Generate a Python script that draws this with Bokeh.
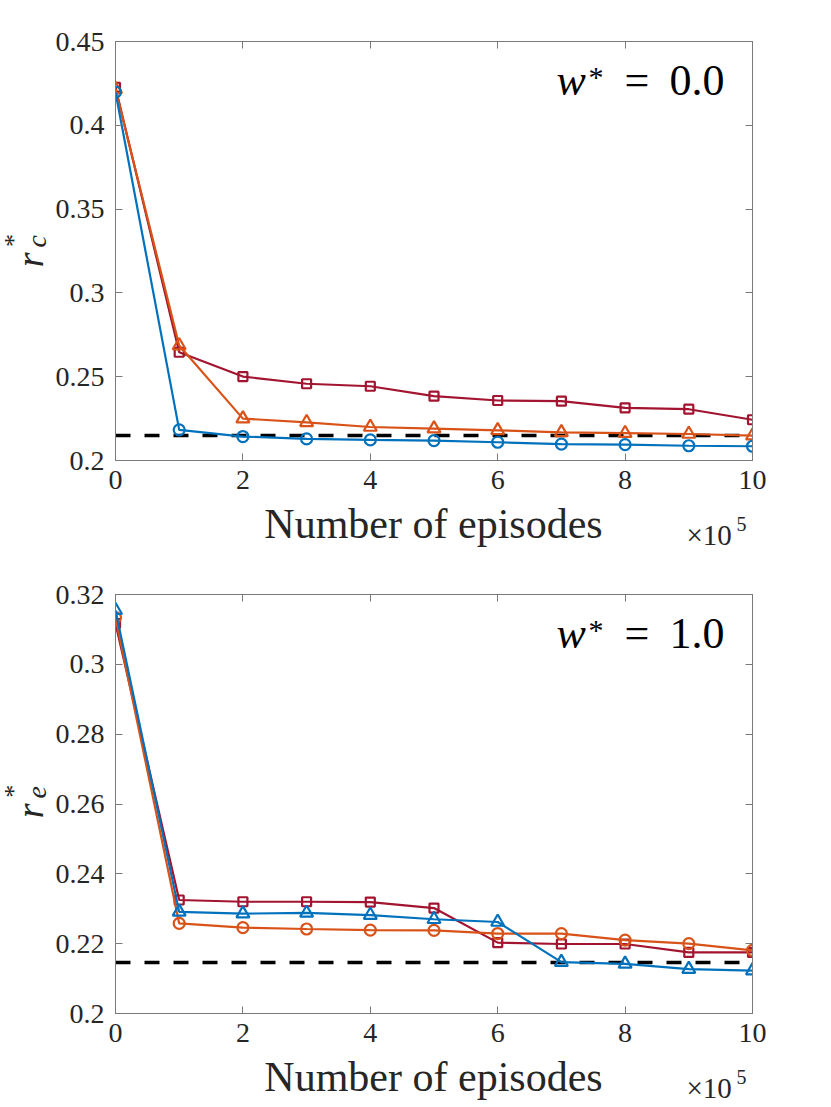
import math
from bokeh.plotting import figure
from bokeh.models import Range1d, LinearAxis, FixedTicker, NumeralTickFormatter, Label
from bokeh.layouts import column, row
from bokeh.embed import file_html
from bokeh.resources import INLINE

# ---------------- data ----------------
episodes = [0, 1, 2, 3, 4, 5, 6, 7, 8, 9, 10]          # x 1e5
x_ticks = [0, 2, 4, 6, 8, 10]
x_label = "Number of episodes"
x_scale_text = "×10"
x_scale_exp = "5"

# top panel (w* = 0.0)
top_square = [0.4227, 0.2646, 0.2501, 0.2458, 0.2443, 0.2384, 0.2358, 0.2354, 0.2314, 0.2306, 0.2243]
top_triangle = [0.4215, 0.2686, 0.2250, 0.2228, 0.2200, 0.2190, 0.2180, 0.2168, 0.2163, 0.2158, 0.2148]
top_circle = [0.4198, 0.2183, 0.2143, 0.2129, 0.2123, 0.2119, 0.2109, 0.2098, 0.2095, 0.2088, 0.2085]
top_baseline = 0.2149
top_y_ticks = [0.2, 0.25, 0.3, 0.35, 0.4, 0.45]

# bottom panel (w* = 1.0)
bot_square = [0.3117, 0.2325, 0.2320, 0.2320, 0.2319, 0.2302, 0.2203, 0.2199, 0.2199, 0.2175, 0.2175]
bot_circle = [0.3134, 0.2258, 0.2246, 0.2242, 0.2239, 0.2238, 0.2229, 0.2229, 0.2210, 0.2200, 0.2181]
bot_triangle = [0.3155, 0.2291, 0.2286, 0.2288, 0.2282, 0.2270, 0.2262, 0.2147, 0.2142, 0.2127, 0.2123]
bot_baseline = 0.2146
bot_y_ticks = [0.2, 0.22, 0.24, 0.26, 0.28, 0.3, 0.32]

baseline_x = [0, 10]

RED = "#A2142F"
ORANGE = "#D95319"
BLUE = "#0072BD"
AX = "#7a7a7a"
TXT = "#262626"
SERIF = "Liberation Serif"

YLAB_W = 52
LEFT_B = 114 - YLAB_W
MAIN_W = LEFT_B + 638 + 40
TOTAL_W = YLAB_W + MAIN_W
MID = 0.3375   # distance baseline -> text-box middle, in em (Liberation Serif)


def style_axis(ax, show_labels=True):
    ax.axis_line_color = AX
    ax.axis_line_width = 1
    ax.major_tick_line_color = AX
    ax.major_tick_in = 7
    ax.major_tick_out = 0
    ax.minor_tick_line_color = None
    ax.major_label_text_font = SERIF
    if show_labels:
        ax.major_label_text_color = TXT
        ax.major_label_text_font_size = "28px"
    else:
        ax.major_label_text_color = None
        ax.major_label_text_font_size = "1px"
        ax.major_label_standoff = 0


def blank_fig(w, h):
    f = figure(width=w, height=h, output_backend="svg", toolbar_location=None,
               x_range=Range1d(0, w), y_range=Range1d(0, h),
               x_axis_type=None, y_axis_type=None, min_border=0)
    f.xgrid.visible = False
    f.ygrid.visible = False
    f.outline_line_color = None
    return f


def text_label(x, y_base, size, text, **kw):
    """Label whose alphabetic baseline sits at y_base (y axis pointing up)."""
    return Label(x=x, y=y_base + MID * size, text=text, text_font=SERIF,
                 text_font_size=f"{size}px", text_baseline="middle", **kw)


def make_main(height, top_border, bottom_border, y_lo, y_hi, y_ticks, series, baseline, wtext):
    p = figure(width=MAIN_W, height=height, output_backend="svg", toolbar_location=None,
               x_range=Range1d(0, 10), y_range=Range1d(y_lo, y_hi),
               min_border_left=LEFT_B, min_border_right=MAIN_W - LEFT_B - 638,
               min_border_top=top_border, min_border_bottom=bottom_border)
    p.xgrid.visible = False
    p.ygrid.visible = False
    p.outline_line_color = AX

    p.xaxis.ticker = FixedTicker(ticks=x_ticks)
    p.yaxis.ticker = FixedTicker(ticks=y_ticks)
    p.xaxis.formatter = NumeralTickFormatter(format="0")
    p.yaxis.formatter = NumeralTickFormatter(format="0.[00]")
    style_axis(p.xaxis[0])
    style_axis(p.yaxis[0])
    p.xaxis.major_label_standoff = 10
    p.yaxis.major_label_standoff = 11

    right = LinearAxis(ticker=FixedTicker(ticks=y_ticks))
    style_axis(right, show_labels=False)
    p.add_layout(right, "right")
    above = LinearAxis(ticker=FixedTicker(ticks=x_ticks))
    style_axis(above, show_labels=False)
    p.add_layout(above, "above")

    p.line(baseline_x, [baseline, baseline], line_color="black", line_width=3.5,
           line_dash="15 14")

    for ys, color, marker, size in series:
        p.line(episodes, ys, line_color=color, line_width=2.2)
        p.scatter(episodes, ys, marker=marker, size=size, line_color=color,
                  fill_color=None, line_width=2.2)

    # w* = value annotation (inside the frame); offsets in px from the frame top-left
    def lab(dx, base_below_top, size, text, style="normal"):
        return Label(x=0, y=y_hi, x_offset=dx, y_offset=-base_below_top + MID * size,
                     text=text, text_font=SERIF, text_font_size=f"{size}px",
                     text_font_style=style, text_color="black", text_align="left",
                     text_baseline="middle")
    p.add_layout(lab(441, 54, 44, "w", "italic"))
    p.add_layout(lab(473, 45, 30, "*"))
    p.add_layout(lab(509, 54, 44, "="))
    p.add_layout(lab(554, 54, 44, wtext))
    return p


def make_ylabel(height, row_top, frame_mid, sub):
    f = blank_fig(YLAB_W, height)
    def Y(py):
        return height - (py - row_top)
    rot = dict(angle=math.pi / 2, text_font=SERIF, text_color=TXT,
               text_align="center", text_baseline="middle")
    f.add_layout(Label(x=29, y=Y(frame_mid + 11), text="r", text_font_style="italic",
                       text_font_size="38px", **rot))
    f.add_layout(Label(x=13, y=Y(frame_mid - 12), text="*", text_font_size="26px", **rot))
    f.add_layout(Label(x=36, y=Y(frame_mid - 11), text=sub, text_font_style="italic",
                       text_font_size="28px", **rot))
    return f


def make_xstrip(height, strip_top, frame_bottom):
    f = blank_fig(TOTAL_W, height)
    def Y(py):
        return height - (py - strip_top)
    f.add_layout(text_label(433, Y(frame_bottom + 78), 42, x_label,
                            text_color=TXT, text_align="center"))
    f.add_layout(text_label(686, Y(frame_bottom + 84), 29, x_scale_text,
                            text_color=TXT, text_align="left"))
    f.add_layout(text_label(736, Y(frame_bottom + 70), 20, x_scale_exp,
                            text_color=TXT, text_align="left"))
    return f


# panel 1 : rows 0..502, strip 502..558
H1 = 502
m1 = make_main(H1, 41, 42, 0.2, 0.45, top_y_ticks,
               [(top_square, RED, "square", 9),
                (top_triangle, ORANGE, "triangle", 13),
                (top_circle, BLUE, "circle", 11)],
               top_baseline, "0.0")
y1 = make_ylabel(H1, 0, 41 + 209.5, "c")
s1 = make_xstrip(56, H1, 460)

# panel 2 : rows 558..1055, strip 1055..1106
H2 = 497
m2 = make_main(H2, 36, 42, 0.2, 0.32, bot_y_ticks,
               [(bot_square, RED, "square", 9),
                (bot_circle, ORANGE, "circle", 11),
                (bot_triangle, BLUE, "triangle", 13)],
               bot_baseline, "1.0")
y2 = make_ylabel(H2, 558, 594 + 209.5, "e")
s2 = make_xstrip(51, 1055, 1013)

layout = column(row(y1, m1), s1, row(y2, m2), s2)
open("out.html", "w").write(file_html(layout, INLINE))
